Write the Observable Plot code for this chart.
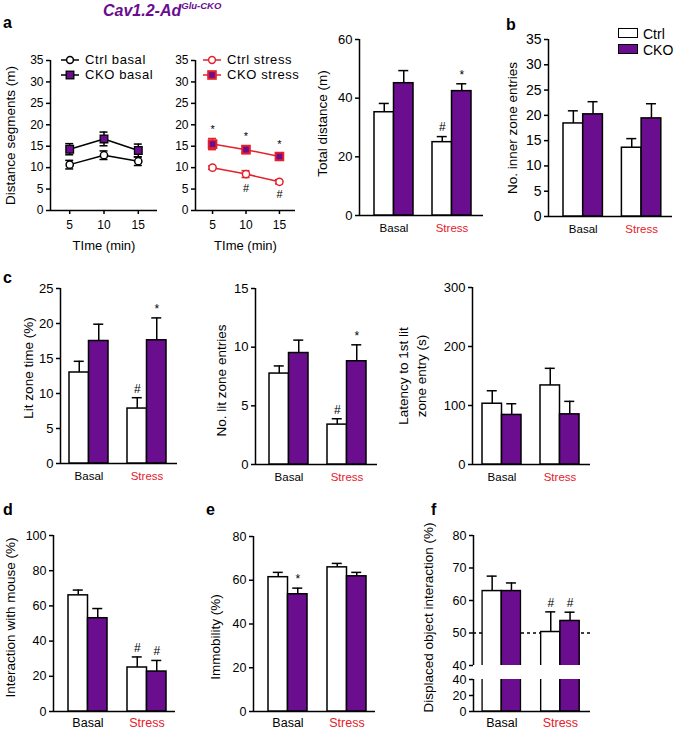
<!DOCTYPE html>
<html><head><meta charset="utf-8">
<script src="https://cdn.jsdelivr.net/npm/d3@7"></script>
<script src="https://cdn.jsdelivr.net/npm/@observablehq/plot@0.6"></script>
<style>
html,body{margin:0;padding:0;background:#fff;}
#fig{position:relative;width:677px;height:730px;overflow:hidden;background:#fff;font-family:'Liberation Sans',Arial,Helvetica,sans-serif;color:#000;}
.t{position:absolute;line-height:1;white-space:nowrap;}
</style></head>
<body><div id="fig"></div>
<script>
const FONT = "'Liberation Sans', Arial, Helvetica, sans-serif";
const PURPLE = "#6a0d8e";
const RED = "#e5202a";

const groups = ["Basal", "Stress"];
const groupColors = ["#000000", RED];
const genotypes = ["Ctrl", "CKO"];

// ---- panel a: distance segments vs time ----
const times = [5, 10, 15];
const segTicks = [0, 5, 10, 15, 20, 25, 30, 35];
const ctrlBasal = [10.7, 12.9, 11.5];
const ctrlBasalErr = [1.0, 1.0, 1.0];
const ckoBasal = [14.3, 16.7, 14.0];
const ckoBasalErr = [1.3, 1.6, 1.5];
const ctrlStress = [10.0, 8.5, 6.7];
const ctrlStressErr = [0.4, 0.8, 0.5];
const ctrlStressSig = ["", "#", "#"];
const ckoStress = [15.5, 14.2, 12.6];
const ckoStressErr = [1.3, 0.9, 0.8];
const ckoStressSig = ["*", "*", "*"];

// ---- bar panels: order Basal-Ctrl, Basal-CKO, Stress-Ctrl, Stress-CKO ----
const totalDistance = [35.2, 45.1, 25.0, 42.4];
const totalDistanceErr = [3.0, 4.3, 1.9, 2.5];
const totalDistanceSig = ["", "", "#", "*"];
const totalDistanceTicks = [0, 20, 40, 60];

const innerEntries = [18.4, 20.2, 13.6, 19.4];
const innerEntriesErr = [2.5, 2.5, 1.8, 2.9];
const innerEntriesTicks = [0, 5, 10, 15, 20, 25, 30, 35];

const litTime = [13.0, 17.5, 7.85, 17.6];
const litTimeErr = [1.6, 2.4, 1.55, 3.2];
const litTimeSig = ["", "", "#", "*"];
const litTimeTicks = [0, 5, 10, 15, 20, 25];

const litEntries = [7.75, 9.5, 3.4, 8.8];
const litEntriesErr = [0.65, 1.1, 0.5, 1.4];
const litEntriesSig = ["", "", "#", "*"];
const litEntriesTicks = [0, 5, 10, 15];

const latency = [103, 84, 134, 85];
const latencyErr = [22, 19, 29, 22];
const latencyTicks = [0, 100, 200, 300];

const mouseInteraction = [66, 53, 25, 22.7];
const mouseInteractionErr = [3, 5.5, 6, 6.3];
const mouseInteractionSig = ["", "", "#", "#"];
const mouseInteractionTicks = [0, 20, 40, 60, 80, 100];

const immobility = [61.4, 53.6, 65.9, 61.8];
const immobilityErr = [2.2, 2.8, 1.8, 1.8];
const immobilitySig = ["", "*", "", ""];
const immobilityTicks = [0, 20, 40, 60, 80];

const displaced = [62.9, 62.9, 50.3, 53.7];
const displacedErr = [4.6, 2.5, 6.2, 2.7];
const displacedSig = ["", "", "#", "#"];
const displacedChance = [50];
const displacedUpperTicks = [40, 50, 60, 70, 80];
const displacedLowerTicks = [0, 20, 40];

// ---------------- helpers ----------------
const fig = document.getElementById("fig");
const M = {l: 72, r: 14, t: 24, b: 44};
const STYLE = `background:transparent;font-family:${FONT};font-size:12px;color:#000;overflow:visible;`;

function put(el, left, top) {
  el.style.position = "absolute";
  el.style.left = left + "px";
  el.style.top = top + "px";
  fig.appendChild(el);
  return el;
}
function plotAt([x0, x1, yTop, yBot], opts) {
  const svg = Plot.plot({
    width: x1 - x0 + M.l + M.r,
    height: yBot - yTop + M.t + M.b,
    marginLeft: M.l, marginRight: M.r, marginTop: M.t, marginBottom: M.b,
    style: STYLE,
    ...opts
  });
  return put(svg, x0 - M.l, yTop - M.t);
}
function txt(html, left, top, css) {
  const d = document.createElement("div");
  d.className = "t";
  d.innerHTML = html;
  d.style.left = left + "px";
  d.style.top = top + "px";
  d.style.cssText += css || "";
  fig.appendChild(d);
  return d;
}

// axes layer (drawn underneath)
function axesLayer(frame, {domain, ticks, label, labelDx, labelDy = 0, tickFont = 13, labelFont = 13.5, xLine = true, extra = []}) {
  return plotAt(frame, {
    x: {domain: [0, 1], axis: null},
    y: {domain, axis: null},
    marks: [
      ...extra,
      Plot.axisY({ticks, tickSize: 4, tickPadding: 3, label: null, fontSize: tickFont, strokeWidth: 1.5, tickFormat: d => String(d)}),
      Plot.ruleX([0], {strokeWidth: 1.5}),
      xLine ? Plot.ruleY([domain[0]], {strokeWidth: 1.5}) : null,
      label ? Plot.text([label], {text: d => d, frameAnchor: "left", rotate: -90, dx: labelDx, dy: labelDy, fontSize: labelFont, lineAnchor: "middle", textAnchor: "middle", lineHeight: 1.3}) : null
    ]
  });
}

// bars layer (on top)
function barsLayer(frame, {vals, errs, sig = [], domain, layout: [L, bw, g], clip = false, showErr = true, showGroups = true, groupFont = 12, groupDy = 13}) {
  const W = frame[1] - frame[0];
  const xpo = 0.04;                 // room for outer strokes
  const P = bw * (2 + 2 * xpo);     // facet (pair) width
  const gEff = g - 2 * xpo * bw;
  const S = P + gEff;
  const extra = W - 2 * P - gEff;
  const rows = vals.map((v, i) => ({group: groups[i >> 1], genotype: genotypes[i % 2], value: v, hi: v + (errs ? errs[i] : 0), sig: sig[i] || ""}));
  const f = {fx: "group", x: "genotype"};
  const capInset = (bw - 10) / 2;
  return plotAt(frame, {
    fx: {domain: groups, paddingInner: gEff / S, paddingOuter: extra / (2 * S), align: (L - xpo * bw) / extra, axis: null, round: false},
    x: {domain: genotypes, paddingInner: 0, paddingOuter: xpo, axis: null, round: false},
    y: {domain, axis: null},
    marks: [
      showErr ? Plot.ruleX(rows, {...f, y1: "value", y2: "hi", strokeWidth: 1.5}) : null,
      showErr ? Plot.tickY(rows, {...f, y: "hi", insetLeft: capInset, insetRight: capInset, strokeWidth: 1.5}) : null,
      Plot.barY(rows.filter(d => d.genotype === "Ctrl"), {...f, y: "value", fill: "white", stroke: "black", strokeWidth: 1.5, clip}),
      Plot.barY(rows.filter(d => d.genotype === "CKO"), {...f, y: "value", fill: PURPLE, stroke: "black", strokeWidth: 1.5, clip}),
      Plot.text(rows.filter(d => d.sig), {...f, y: "hi", text: "sig", dy: -9, fontSize: 12, lineAnchor: "middle"}),
      ...(showGroups ? groups.map((gName, i) => Plot.text([gName], {fx: d => d, text: d => d, frameAnchor: "bottom", textAnchor: "middle", dy: groupDy, lineAnchor: "middle", fontSize: groupFont, fill: groupColors[i]})) : [])
    ]
  });
}

function barPanel(frame, spec) {
  axesLayer(frame, spec);
  barsLayer(frame, spec);
}

// line chart
function lineChart(frame, {xDomain, series, label, labelDx}) {
  const marks = [
    Plot.axisY({ticks: segTicks, tickSize: 4, tickPadding: 3, label: null, fontSize: 12, strokeWidth: 1.5}),
    Plot.axisX({ticks: times, tickSize: 4, tickPadding: 6, label: null, fontSize: 12, strokeWidth: 1.5}),
    Plot.ruleX([xDomain[0]], {strokeWidth: 1.5}),
    Plot.ruleY([0], {strokeWidth: 1.5}),
    Plot.text(["TIme (min)"], {text: d => d, frameAnchor: "bottom", textAnchor: "middle", dy: 35, fontSize: 13, lineAnchor: "middle"})
  ];
  if (label) marks.push(Plot.text([label], {text: d => d, frameAnchor: "left", rotate: -90, dx: labelDx, fontSize: 13.5, lineAnchor: "middle", textAnchor: "middle"}));
  for (const s of series) {
    const rows = times.map((t, i) => ({t, v: s.values[i], lo: s.values[i] - s.errs[i], hi: s.values[i] + s.errs[i], sig: s.sig ? s.sig[i] : ""}));
    marks.push(
      Plot.ruleX(rows, {x: "t", y1: "lo", y2: "hi", stroke: s.line, strokeWidth: 1.5}),
      Plot.ruleY(rows, {y: "hi", x1: "t", x2: "t", insetLeft: -4, insetRight: -4, stroke: s.line, strokeWidth: 1.5}),
      Plot.ruleY(rows, {y: "lo", x1: "t", x2: "t", insetLeft: -4, insetRight: -4, stroke: s.line, strokeWidth: 1.5}),
      Plot.line(rows, {x: "t", y: "v", stroke: s.line, strokeWidth: 1.5}),
      Plot.dot(rows, {x: "t", y: "v", symbol: s.symbol, r: s.r, fill: s.fill, stroke: s.stroke, strokeWidth: s.sw}),
      Plot.text(rows.filter(d => d.sig), {x: "t", y: s.sigAbove ? "hi" : "lo", text: "sig", dy: s.sigAbove ? -9 : 11, fontSize: 11, lineAnchor: "middle"})
    );
  }
  plotAt(frame, {x: {domain: xDomain, axis: null}, y: {domain: [0, 35], axis: null}, marks});
}

// ---------------- title & panel letters ----------------
txt(`Cav1.2-Ad<sup style="font-size:9.5px;vertical-align:0;position:relative;top:-7px;">Glu-CKO</sup>`, 103, 3, `font-size:16px;font-weight:bold;font-style:italic;color:${PURPLE};`);
const LET = "font-size:16px;font-weight:bold;";
txt("a", 3, 14.5, LET);
txt("b", 506, 16.5, LET);
txt("c", 3, 269.5, LET);
txt("d", 3, 501.5, LET);
txt("e", 206, 501.5, LET);
txt("f", 431, 501.5, LET);

// ---------------- panel a ----------------
lineChart([50, 157, 60, 210], {
  xDomain: [2.2, 17.8], label: "Distance segments (m)", labelDx: -40,
  series: [
    {values: ctrlBasal, errs: ctrlBasalErr, line: "black", symbol: "circle", r: 3.6, fill: "white", stroke: "black", sw: 1.5},
    {values: ckoBasal, errs: ckoBasalErr, line: "black", symbol: "square", r: 4.3, fill: PURPLE, stroke: "black", sw: 1.3}
  ]
});
lineChart([195, 295, 60, 210], {
  xDomain: [2.45, 17.4],
  series: [
    {values: ctrlStress, errs: ctrlStressErr, sig: ctrlStressSig, sigAbove: false, line: RED, symbol: "circle", r: 3.6, fill: "white", stroke: RED, sw: 1.5},
    {values: ckoStress, errs: ckoStressErr, sig: ckoStressSig, sigAbove: true, line: RED, symbol: "square", r: 4.3, fill: PURPLE, stroke: RED, sw: 2}
  ]
});

// legends of panel a
function legendRow(x, y, marker, label) {
  const svgNS = "http://www.w3.org/2000/svg";
  const s = document.createElementNS(svgNS, "svg");
  s.setAttribute("width", 20); s.setAttribute("height", 12);
  s.innerHTML = marker;
  put(s, x, y - 6);
  txt(label, x + 25, y - 7, "font-size:13px;letter-spacing:0.6px;");
}
const lineSeg = c => `<line x1="1" y1="6" x2="19" y2="6" stroke="${c}" stroke-width="1.5"/>`;
legendRow(60, 60, lineSeg("black") + `<circle cx="10" cy="6" r="3.4" fill="white" stroke="black" stroke-width="1.5"/>`, "Ctrl basal");
legendRow(60, 75, lineSeg("black") + `<rect x="6.2" y="2.2" width="7.6" height="7.6" fill="${PURPLE}" stroke="black" stroke-width="1.3"/>`, "CKO basal");
legendRow(202, 60, lineSeg(RED) + `<circle cx="10" cy="6" r="3.4" fill="white" stroke="${RED}" stroke-width="1.5"/>`, "Ctrl stress");
legendRow(202, 75, lineSeg(RED) + `<rect x="6.2" y="2.2" width="7.6" height="7.6" fill="${PURPLE}" stroke="${RED}" stroke-width="2"/>`, "CKO stress");

barPanel([359, 483, 39, 215], {vals: totalDistance, errs: totalDistanceErr, sig: totalDistanceSig, domain: [0, 60], ticks: totalDistanceTicks,
  label: "Total distance (m)", labelDx: -38, labelDy: -4, layout: [15, 19.5, 19], tickFont: 13, groupFont: 11.5});

// ---------------- panel b ----------------
barPanel([548, 672, 39, 216], {vals: innerEntries, errs: innerEntriesErr, domain: [0, 35], ticks: innerEntriesTicks,
  label: "No. inner zone entries", labelDx: -37, layout: [15, 19.7, 19], tickFont: 14, groupFont: 11.5});
// legend b
const boxL = (fill) => { const d = document.createElement("div"); d.style.cssText = `width:18px;height:8px;border:1.5px solid #000;background:${fill};`; return d; };
put(boxL("white"), 618, 28);
put(boxL(PURPLE), 618, 44);
txt("Ctrl", 643, 26.5, "font-size:14px;");
txt("CKO", 643, 42.5, "font-size:14px;");

// ---------------- panel c ----------------
barPanel([60, 177, 288, 463], {vals: litTime, errs: litTimeErr, sig: litTimeSig, domain: [0, 25], ticks: litTimeTicks,
  label: "Lit zone time (%)", labelDx: -33, labelDy: -8, layout: [9, 19.5, 19], tickFont: 13, groupFont: 11.5});
barPanel([255, 377, 288, 464], {vals: litEntries, errs: litEntriesErr, sig: litEntriesSig, domain: [0, 15], ticks: litEntriesTicks,
  label: "No. lit zone entries", labelDx: -35, labelDy: 4, layout: [14, 19.5, 19], tickFont: 13, groupFont: 11.5});
barPanel([472, 590, 287, 464], {vals: latency, errs: latencyErr, domain: [0, 300], ticks: latencyTicks,
  label: "Latency to 1st lit\nzone entry (s)", labelDx: -61, layout: [10, 19.5, 19], tickFont: 13, groupFont: 11.5});

// ---------------- panel d ----------------
barPanel([53, 175, 535, 711], {vals: mouseInteraction, errs: mouseInteractionErr, sig: mouseInteractionSig, domain: [0, 100], ticks: mouseInteractionTicks,
  label: "Interaction with mouse (%)", labelDx: -44.5, labelDy: -6, layout: [15, 19.5, 20], tickFont: 12.5, groupFont: 12.5, groupDy: 11.5});

// ---------------- panel e ----------------
barPanel([253, 375, 536, 711], {vals: immobility, errs: immobilityErr, sig: immobilitySig, domain: [0, 80], ticks: immobilityTicks,
  label: "Immobility (%)", labelDx: -39, labelDy: 13, layout: [15, 19.5, 20], tickFont: 12.5, groupFont: 12.5, groupDy: 11.5});

// ---------------- panel f (broken axis) ----------------
const fUpper = [473, 590, 535, 665], fLower = [473, 590, 679, 711];
axesLayer(fUpper, {domain: [40, 80], ticks: displacedUpperTicks, xLine: false, tickFont: 12.5,
  label: "Displaced object interaction (%)", labelDx: -46, labelDy: 17,
  extra: [Plot.ruleY(displacedChance, {strokeDasharray: "3,3", strokeWidth: 1.5})]});
barsLayer(fUpper, {vals: displaced, errs: displacedErr, sig: displacedSig, domain: [40, 80], layout: [9, 19.3, 20], clip: true, showGroups: false});
axesLayer(fLower, {domain: [0, 40], ticks: displacedLowerTicks, tickFont: 12.5});
barsLayer(fLower, {vals: displaced, errs: null, domain: [0, 40], layout: [9, 19.3, 20], clip: true, showErr: false, groupFont: 12.5, groupDy: 11.5});
</script>
</body></html>
